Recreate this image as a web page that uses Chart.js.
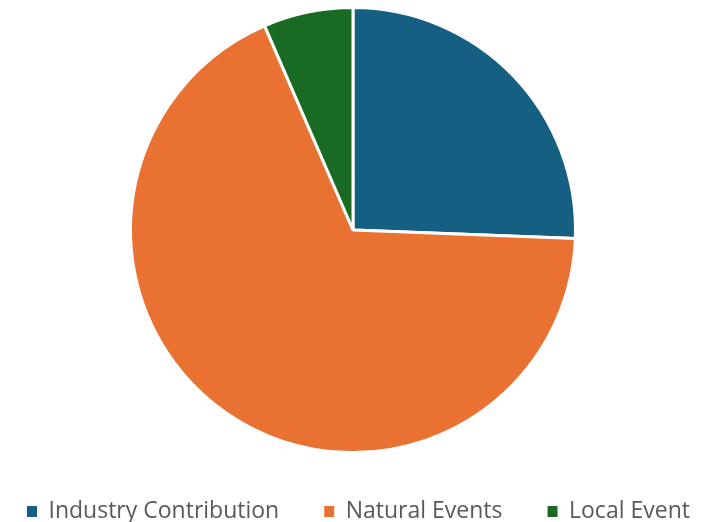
<!DOCTYPE html>
<html>
<head>
<meta charset="utf-8">
<script src="https://cdn.jsdelivr.net/npm/chart.js@4/dist/chart.umd.min.js"></script>
<style>
  html, body { margin: 0; padding: 0; background: #fff; }
  #wrap { width: 712px; height: 522px; position: relative; }
</style>
</head>
<body>
<div id="wrap"><canvas id="chart-pie"></canvas></div>
<script>
// data
var labels = ['Industry Contribution', 'Natural Events', 'Local Event'];
var values = [25.6, 67.9, 6.5];
var colors = ['#156082', '#E97132', '#196B24'];

var legendPad = 45;

// fixed legend height, and a single row starting at x=27
var legendFit = {
  id: 'legendFit',
  beforeInit: function (chart) {
    var lg = chart.legend;
    var fit = lg.fit;
    lg.fit = function () {
      fit.call(lg);
      lg.height = 68;
    };
    var draw = lg.draw;
    lg.draw = function () {
      var l = lg.left, r = lg.right, t = lg.top;
      lg.left = 27 - legendPad;
      lg.right = 2000;
      lg.top = 500 - legendPad;
      draw.call(lg);
      lg.left = l; lg.right = r; lg.top = t;
    };
  }
};

var config = {
  type: 'pie',
  data: {
    labels: labels,
    datasets: [{
      data: values,
      backgroundColor: colors,
      borderColor: '#ffffff',
      borderWidth: 3
    }]
  },
  options: {
    responsive: true,
    maintainAspectRatio: false,
    animation: false,
    layout: {
      padding: { top: 6, bottom: 0, left: 0, right: 6 }
    },
    plugins: {
      legend: {
        position: 'bottom',
        align: 'start',
        labels: {
          boxWidth: 10,
          boxHeight: 11,
          padding: legendPad,
          color: '#595959',
          font: { family: 'Open Sans', size: 23 },
          generateLabels: function (chart) {
            // no white outline on the legend squares
            var items = Chart.overrides.doughnut.plugins.legend.labels.generateLabels(chart);
            items.forEach(function (it) { it.lineWidth = 0; });
            return items;
          }
        }
      },
      tooltip: { enabled: false }
    }
  },
  plugins: [legendFit]
};

var ctx = document.getElementById('chart-pie').getContext('2d');
window.myPie = new Chart(ctx, config);
</script>
</body>
</html>
